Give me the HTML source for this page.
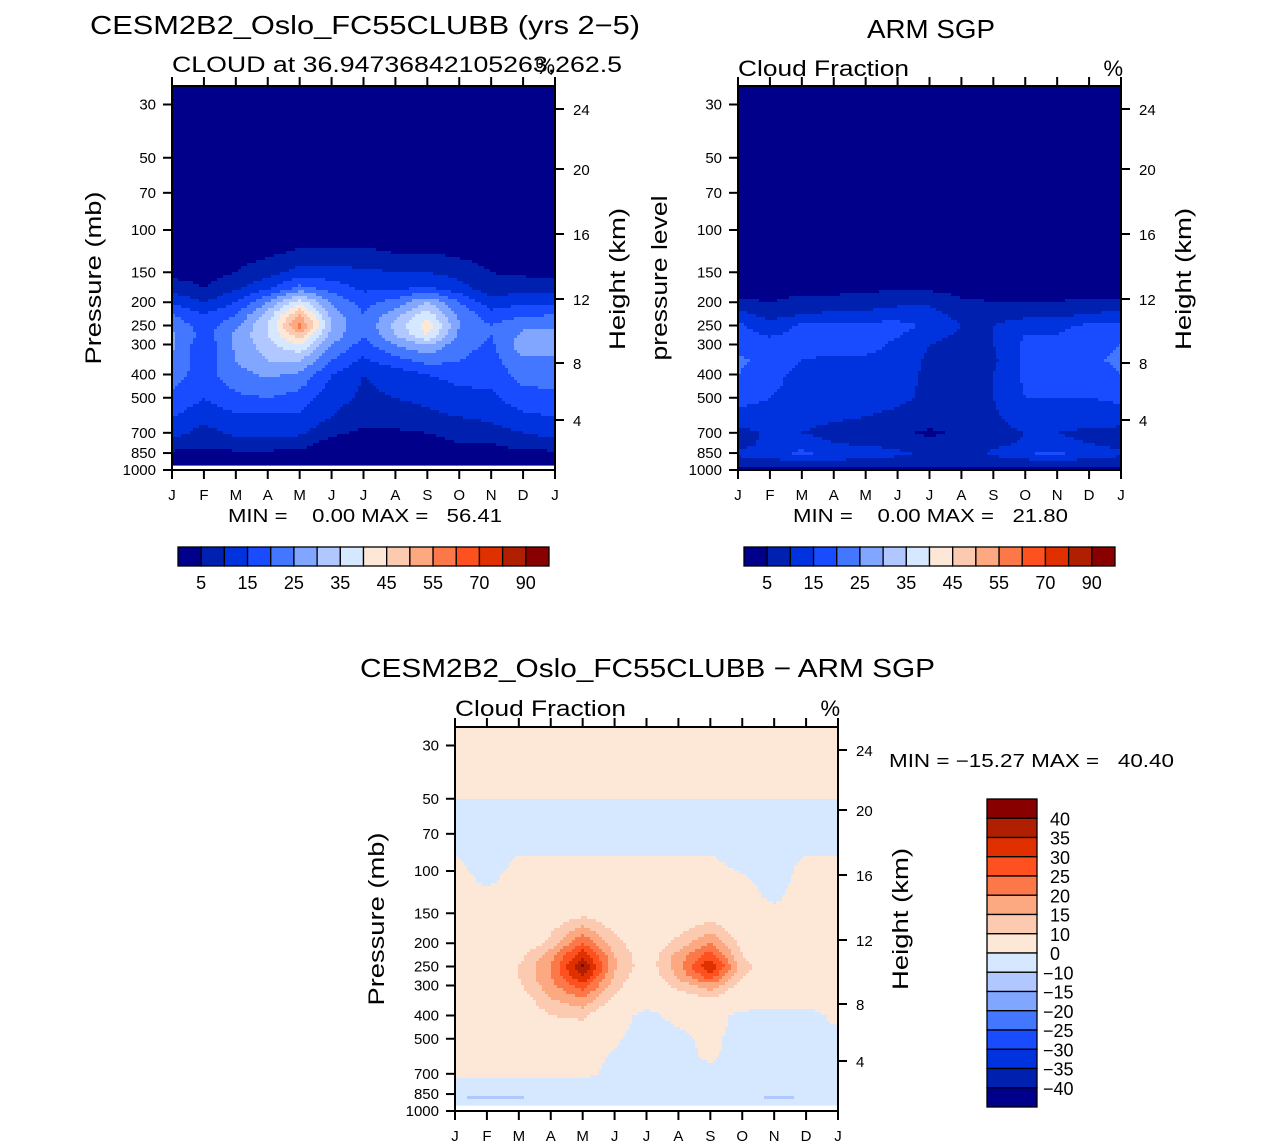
<!DOCTYPE html>
<html><head><meta charset="utf-8">
<style>
body{margin:0;background:#fff;}
svg{display:block;font-family:"Liberation Sans",sans-serif;}
</style></head>
<body>
<svg id="s" width="1285" height="1148" viewBox="0 0 1285 1148">
<g id="fills"></g>
<g id="axes" stroke="#000" fill="none" stroke-width="2"></g>
<g id="txt" fill="#000"></g>
</svg>
<script>
// ---------- data ----------
const months = ["J","F","M","A","M","J","J","A","S","O","N","D","J"];
const modelLevels = [30,50,70,100,125,150,175,200,225,250,275,300,350,400,500,600,700,775,850,925];
const modelVals = [
[0,0,0,0,0,0,0,0,0,0,0,0,0],
[0,0,0,0,0,0,0,0,0,0,0,0,0],
[0,0,0,0,0,0,0,0,0,0,0,0,0],
[1,1,1,1,2,2,2,2,2,1,1,1,1],
[2,2,3,4,6,6,6,5,5,4,3,3,2],
[3,3,5,8,12,12,11,10,10,8,5,4,3],
[8,5,9,14,22,18,14,14,16,12,7,8,8],
[14,10,15,25,38,24,18,22,30,20,12,14,14],
[20,15,20,32,50,28,20,28,38,24,17,19,20],
[24,17,24,35,57,30,20,32,43,25,20,24,24],
[26,18,26,35,48,28,20,30,40,24,20,26,26],
[26,16,26,33,40,25,18,25,30,22,19,28,28],
[24,17,25,30,30,20,14,18,22,20,18,24,24],
[22,18,23,26,24,15,10,12,15,17,17,22,22],
[19,15,19,20,18,12,9,10,11,13,14,18,19],
[15,12,14,14,14,10,7,8,9,10,11,14,15],
[12,8,11,11,11,6,4,4,5,7,8,10,12],
[8,6,8,8,7,3,2,2,3,5,5,7,8],
[4,4,4,4,4,2,2,2,2,3,3,4,4],
[3,3,3,3,3,2,2,2,2,2,3,3,3]];
const obsLevels = [30,100,175,200,225,250,300,350,400,500,600,700,775,850,925,1000];
const obsVals = [
[0,0,0,0,0,0,0,0,0,0,0,0,0],
[0,0,0,0,0,0,0,0,0,0,0,0,0],
[3,2,3,3,4,4,4,3,3,3,3,3,3],
[6,5,7,7,8,9,9,6,5,5,5,6,6],
[12,8,10,11,11,12,12,8,7,8,9,10,12],
[16,12,16,17,17,17,14,10,10,14,14,16,16],
[18,17,17,17,17,14,10,8,10,16,16,18,20],
[21,18,15,14,14,13,9,8,9,16,16,19,21],
[20,17,13,13,13,12,9,8,10,16,16,17,20],
[17,15,13,13,12,11,9,8,10,15,15,15,16],
[13,13,12,11,10,9,8,8,9,13,13,12,13],
[8,11,10,8,7,6,4,6,8,10,10,9,8],
[7,12,13,10,9,8,7,6,8,11,11,10,8],
[11,14,16,14,13,11,9,7,11,15,16,13,11],
[8,8,9,9,8,8,7,6,7,8,9,8,8],
[4,4,4,4,4,4,4,4,4,4,4,4,4]];
const diffLevels = [30,45,55,70,95,110,130,150,200,225,250,275,300,350,400,500,600,700,775,850,880,925];
const diffVals = [
[2,2,2,2,2,2,2,2,2,2,2,2,2],
[2,2,2,2,2,2,2,2,2,2,2,2,2],
[-2,-2,-2,-2,-2,-2,-2,-2,-2,-2,-2,-2,-2],
[-2,-2,-2,-2,-2,-2,-2,-2,-2,-2,-2,-2,-2],
[1,-2,1,1,1,1,1,1,1,-1,-2,1,1],
[2,-1,2,2,2,2,2,2,2,1,-2,2,2],
[3,2,3,3,4,3,3,3,3,2,-1,3,3],
[3,3,3,5,8,5,3,4,6,4,2,3,3],
[4,3,4,12,25,12,5,12,20,8,4,4,4],
[5,3,8,18,34,15,6,17,28,10,5,5,5],
[9,3,10,20,41,16,6,18,35,12,6,5,9],
[6,3,10,20,35,14,5,16,28,10,6,5,6],
[5,3,9,18,28,12,4,12,18,7,5,4,5],
[4,3,6,14,18,8,3,5,8,4,4,3,4],
[3,3,4,10,11,3,-2,2,3,-2,-3,-3,2],
[3,3,3,6,6,1,-3,-2,2,-3,-4,-3,-2],
[2,2,2,3,3,-1,-3,-2,1,-3,-4,-3,-2],
[2,2,2,2,2,-2,-3,-3,-2,-3,-4,-3,-2],
[-2,-3,-3,-3,-3,-3,-3,-3,-3,-3,-3,-3,-2],
[-4,-8,-8,-4,-3,-3,-3,-3,-3,-4,-8,-6,-3],
[-9,-12,-11,-4,-3,-3,-3,-3,-3,-6,-12,-9,-4],
[-3,-4,-4,-3,-3,-3,-3,-3,-3,-3,-4,-3,-3]];
const absBounds = [5,10,15,20,25,30,35,40,45,50,55,60,70,80,90];
const diffBounds = [-40,-35,-30,-25,-20,-15,-10,0,10,15,20,25,30,35,40];
const absTickLabels = ["5","15","25","35","45","55","70","90"];
const diffTickLabels = ["40","35","30","25","20","15","10","0","\u221210","\u221215","\u221220","\u221225","\u221230","\u221235","\u221240"];
const pTicks = [30,50,70,100,150,200,250,300,400,500,700,850,1000];
const hTicks = [24,20,16,12,8,4];
const hTickOffsets = [23,83,148,213,277,334]; // pixel offsets from panel top
const palette = ["#00008a","#0020b0","#0033dd","#1a4cff","#4477ff","#80a6ff","#b0c8ff","#d6e8ff","#fde8d8","#fccab0","#fca880","#fc7848","#ff5020","#e03000","#b02000","#880000"];

// ---------- helpers ----------
const NS="http://www.w3.org/2000/svg";
const fills=document.getElementById('fills'), axes=document.getElementById('axes'), txt=document.getElementById('txt');
const W=383, H=384;
function yOf(p,T){return T+H - 240*Math.log10(1000/p);}
function pOf(y,T){return 1000/Math.pow(10,(T+H-y)/240);}
function xOf(m,L){return L + m*W/12;}
function sample(levels,vals,m,p){
  const lp=Math.log(p);
  let i=0;
  if(p<=levels[0]) i=-1; else if(p>=levels[levels.length-1]) i=levels.length;
  else { while(levels[i+1]<p) i++; }
  const m0=Math.min(11,Math.floor(m)), fm=m-m0;
  const row=r=>vals[r][m0]*(1-fm)+vals[r][m0+1]*fm;
  if(i===-1) return row(0);
  if(i===levels.length) return row(levels.length-1);
  const f=(lp-Math.log(levels[i]))/(Math.log(levels[i+1])-Math.log(levels[i]));
  return row(i)*(1-f)+row(i+1)*f;
}
function cls(v,b){let k=0;while(k<b.length&&v>=b[k])k++;return k;}
function el(tag,attrs,parent){const e=document.createElementNS(NS,tag);for(const k in attrs)e.setAttribute(k,attrs[k]);parent.appendChild(e);return e;}
function text(x,y,s,size,anchor,parent,name,rot,len){
  const t=el('text',{x:x,y:y,'font-size':size,'text-anchor':anchor||'start'},parent||txt);
  if(rot) t.setAttribute('transform','rotate(-90 '+x+' '+y+')');
  if(len){t.setAttribute('textLength',len);t.setAttribute('lengthAdjust','spacingAndGlyphs');}
  t.textContent=s;
  
  
  return t;
}
function addRect(g,x,y,w,h,c){
  const r=el('rect',{x:x,y:y,width:w,height:h,fill:palette[c]},g);
  
  
}
function drawField(L,T,levels,vals,bounds,bottomY,name){
  const g=el('g',{},fills);
  
  
  const cs=3;
  for(let y=T;y<bottomY;y+=cs){
    const h=Math.min(cs,bottomY-y);
    const p=pOf(y+h/2,T);
    let runStart=L, runC=-1;
    for(let x=L;x<L+W;x+=cs){
      const m=Math.min(12,(x+cs/2-L)/W*12);
      const c=cls(sample(levels,vals,m,p),bounds);
      if(c!==runC){
        if(runC>=0) addRect(g,runStart,y,x-runStart+0.6,h+0.6,runC);
        runStart=x;runC=c;
      }
    }
    if(runC>=0) addRect(g,runStart,y,L+W-runStart,h+0.6,runC);
  }
}
function drawAxes(L,T,name){
  const g=el('g',{},axes);
  
  
  el('rect',{x:L,y:T,width:W,height:H},g);
  months.forEach((mn,i)=>{
    const x=xOf(i,L);
    el('line',{x1:x,y1:T+H,x2:x,y2:T+H+9},g);
    el('line',{x1:x,y1:T,x2:x,y2:T-9},g);
    text(x,T+H+30,mn,15,'middle',txt,'month-tick-label');
  });
  pTicks.forEach(p=>{
    const y=yOf(p,T);
    el('line',{x1:L-9,y1:y,x2:L,y2:y},g);
    text(L-16,y+5,String(p),15,'end',txt,'pressure-tick-label');
  });
  hTicks.forEach((h,i)=>{
    const y=T+hTickOffsets[i];
    el('line',{x1:L+W,y1:y,x2:L+W+9,y2:y},g);
    text(L+W+18,y+6,String(h),15,'start',txt,'height-tick-label');
  });
}
function hColorbar(x0,y0,name){
  const g=el('g',{},fills);
  
  
  const bw=371/16;
  palette.forEach((c,i)=>{
    const r=el('rect',{x:x0+i*bw,y:y0,width:bw,height:19,fill:c,stroke:'#000','stroke-width':1.3},g);
    
    
  });
  absTickLabels.forEach((s,i)=>text(x0+bw*(1+2*i),y0+42,s,18,'middle',txt,'colorbar-label'));
}

// ---------- panels ----------
drawField(172,86,modelLevels,modelVals,absBounds,465,'model-contours');
drawField(738,86,obsLevels,obsVals,absBounds,470,'obs-contours');
drawField(455,727,diffLevels,diffVals,diffBounds,1105,'diff-contours');
drawAxes(172,86,'model-axes');
drawAxes(738,86,'obs-axes');
drawAxes(455,727,'diff-axes');
hColorbar(178,547,'model-colorbar');
hColorbar(744,547,'obs-colorbar');
(function(){
  const g=el('g',{},fills);
  
  
  const bh=308/16;
  for(let i=0;i<16;i++){
    const r=el('rect',{x:987,y:799+i*bh,width:50,height:bh,fill:palette[15-i],stroke:'#000','stroke-width':1.3},g);
    
    
  }
  diffTickLabels.forEach((s,i)=>text(s[0]==='\u2212'?1043:1050,799+bh*(i+1)+7,s,18,'start',txt,'colorbar-label'));
})();

// ---------- titles ----------
text(90,34,"CESM2B2_Oslo_FC55CLUBB (yrs 2\u22125)",26,'start',txt,'model-title',false,550);
text(172,72,"CLOUD at 36.94736842105263,262.5",22,'start',txt,'model-subtitle',false,450);
text(555,74,"%",22,'end',txt,'model-units');
text(867,38,"ARM SGP",26,'start',txt,'obs-title',false,128);
text(738,76,"Cloud Fraction",22,'start',txt,'obs-subtitle',false,171);
text(1123,76,"%",22,'end',txt,'obs-units');
text(360,677,"CESM2B2_Oslo_FC55CLUBB \u2212 ARM SGP",26,'start',txt,'diff-title',false,575);
text(455,716,"Cloud Fraction",22,'start',txt,'diff-subtitle',false,171);
text(840,716,"%",22,'end',txt,'diff-units');
text(228,522,"MIN =    0.00 MAX =   56.41",18,'start',txt,'model-minmax',false,274);
text(793,522,"MIN =    0.00 MAX =   21.80",18,'start',txt,'obs-minmax',false,275);
text(889,767,"MIN = \u221215.27 MAX =   40.40",18,'start',txt,'diff-minmax',false,285);
text(101,278,"Pressure (mb)",22,'middle',txt,'model-y-axis-title',true,173);
text(667,278,"pressure level",22,'middle',txt,'obs-y-axis-title',true,165);
text(384,919,"Pressure (mb)",22,'middle',txt,'diff-y-axis-title',true,173);
text(625,279,"Height (km)",22,'middle',txt,'model-right-axis-title',true,142);
text(1191,279,"Height (km)",22,'middle',txt,'obs-right-axis-title',true,142);
text(908,919,"Height (km)",22,'middle',txt,'diff-right-axis-title',true,142);
document.querySelectorAll('text').forEach(t=>t.style.whiteSpace='pre');
</script>
</body></html>
